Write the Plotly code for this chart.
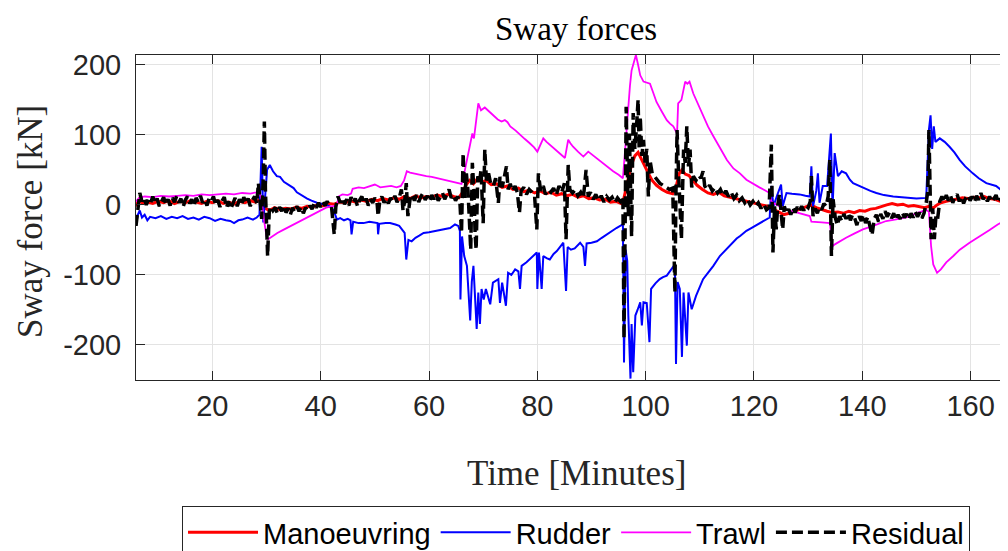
import plotly.graph_objects as go

# ---------------- data (time [min], force [kN]) ----------------
series_names = ["Manoeuvring", "Rudder", "Trawl", "Residual"]
series_colors = ["#ff0000", "#0000ff", "#ff00ff", "#000000"]

manoeuvring = [
    (5.9, -2), (6.5, 8), (7, 3), (8, 4), (9, 2), (10, 5), (11, 3), (12, 6), (13, 2), (14, 5),
    (15, 3), (16, 6), (17, 4), (18, 2), (19, 5), (20, 3), (21, 6), (22, 2), (23, 4), (24, 1),
    (25, 5), (26, 3), (27, 6), (28, 4), (28.8, 8), (29.3, 2), (29.8, -5), (30.5, -8), (31.5, -4),
    (32.5, -7), (33.5, -5), (34.5, -6), (35.5, -3), (36.5, -5), (37.5, -2), (38.5, -3), (39.5, 0),
    (40.5, -1), (41.5, 2), (42.5, 1), (43.5, 4), (44.5, 3), (45.5, 6), (46.5, 4), (47.5, 7),
    (48.5, 5), (49.5, 8), (50.5, 6), (51.5, 9), (52.5, 7), (53.5, 10), (54.5, 8), (55.5, 12),
    (56.5, 9), (57.5, 13), (58.5, 10), (59.5, 12), (60.5, 11), (61.5, 14), (62.5, 12), (63.5, 15),
    (64.5, 12), (65.5, 10), (66.2, 18), (66.8, 28), (67.5, 35), (68.2, 30), (69, 38), (69.8, 32),
    (70.5, 35), (71.5, 29), (72.5, 30), (73.5, 25), (74.5, 27), (75.5, 22), (76.5, 24), (77.5, 19),
    (78.5, 21), (79.5, 17), (80.5, 20), (81.5, 16), (82.5, 18), (83.5, 14), (84.5, 16), (85.5, 13),
    (86.5, 15), (87.5, 11), (88.5, 13), (89.5, 9), (90.5, 10), (91.5, 7), (92.5, 8), (93.5, 4),
    (94.5, 5), (95.5, 2), (96, 10), (96.5, 30), (97, 45), (97.5, 60), (98, 70), (98.6, 75),
    (99.2, 65), (99.8, 55), (100.5, 45), (101.2, 35), (102, 28), (103, 22), (104, 18), (105, 16),
    (105.6, 25), (106.2, 45), (106.7, 50), (107.3, 44), (108, 42), (108.7, 35), (109.5, 28),
    (110.5, 22), (111.5, 17), (112.5, 15), (113.5, 18), (114.5, 13), (115.5, 11), (116.5, 9),
    (117.5, 7), (118.5, 5), (119.5, 3), (120.5, 1), (121.5, 0), (122.5, -2), (123.5, -6),
    (124.5, -10), (125.5, -14), (126.5, -12), (127.5, -9), (128.5, -6), (129.5, -3), (130.5, 0),
    (131.5, -4), (132.5, -7), (133.5, -9), (134.5, -11), (135.5, -10), (136.5, -12), (137.5, -9),
    (138.5, -11), (139.5, -8), (140.5, -9), (141.5, -6), (142.5, -5), (143.5, -2), (144.5, 0),
    (145.5, 2), (146.5, 0), (147.5, 1), (148.5, -2), (149.5, -1), (150.5, -3), (151.5, -4),
    (152.3, -2), (153, -5), (153.8, 0), (154.5, 3), (155.5, 5), (156.5, 7), (157.5, 8), (158.5, 10),
    (159.5, 9), (160.5, 11), (161.5, 10), (162.5, 12), (163.5, 9), (164.5, 8), (165.5, 5), (166.8, 3),
]

rudder = [
    (5.9, -30), (6.2, -15), (6.6, -8), (7, -18), (7.5, -14), (8, -22), (8.5, -17), (9.5, -19),
    (10.5, -16), (11.5, -20), (12.5, -17), (13.5, -19), (14.5, -16), (15.5, -20), (16.5, -18),
    (17.5, -21), (18.5, -17), (19.5, -19), (20.5, -23), (21.5, -20), (22.5, -22), (23.3, -23),
    (24, -26), (24.8, -22), (25.5, -21), (26.5, -18), (27.5, -21), (28.2, -18), (28.7, -14),
    (29.1, 83), (29.4, -25), (29.7, 10), (30.1, 50), (30.6, 57), (31.2, 48), (31.9, 41), (32.5, 40),
    (33.2, 33), (34.3, 27), (35, 24), (35.6, 18), (36.8, 12), (37.5, 9), (38.3, 6), (39.3, 3),
    (40.5, 1), (41.7, -2), (42.4, -8), (43, -21), (43.6, -19), (44.3, -22), (45, -20), (45.5, -22),
    (45.7, -42), (46, -24), (47, -26), (47.9, -26), (49, -24), (50, -26), (50.5, -26), (50.6, -42),
    (50.8, -27), (52, -26), (52.8, -26), (53.8, -28), (54.5, -30), (55, -35), (55.5, -40),
    (55.8, -78), (56.2, -50), (56.8, -52), (57.5, -47), (58.2, -44), (59, -40), (60, -39),
    (61.4, -37), (62.5, -36), (63.9, -33), (64.8, -28), (65.4, -30), (65.7, -37), (65.8, -135),
    (66.1, -45), (66.5, -73), (67, -87), (67.6, -165), (67.9, -110), (68.2, -87), (68.8, -177),
    (69.1, -125), (69.4, -170), (69.7, -120), (70.1, -135), (70.5, -120), (71.3, -142),
    (71.8, -111), (72.8, -106), (73.1, -140), (73.5, -111), (74.2, -144), (74.6, -97), (75.2, -100),
    (75.9, -92), (76.5, -95), (76.8, -120), (77.1, -87), (78, -82), (78.6, -78), (79.4, -72),
    (79.9, -68), (80.0, -120), (80.3, -68), (80.8, -120), (81.1, -73), (81.7, -76), (82.3, -78),
    (83, -70), (83.6, -66), (84.2, -60), (84.8, -54), (85.3, -123), (85.6, -60), (86.2, -64),
    (86.9, -62), (87.9, -54), (88.5, -60), (88.8, -87), (89.1, -55), (90, -54), (91, -52),
    (91.9, -47), (92.8, -42), (93.7, -38), (94.6, -33), (95.3, -30), (95.8, -28), (96, -225),
    (96.3, -64), (96.6, -80), (96.8, -158), (97.2, -248), (97.4, -170), (97.7, -239), (98.1, -158),
    (98.5, -150), (99, -139), (99.3, -172), (99.6, -139), (100.2, -140), (100.7, -196), (101, -120),
    (101.8, -112), (102.6, -106), (103.2, -103), (103.9, -101), (104.7, -92), (105.4, -85),
    (105.6, -227), (105.9, -110), (106.3, -120), (106.7, -217), (107, -125), (107.6, -201),
    (107.9, -125), (108.5, -149), (109.3, -130), (110, -118), (110.6, -106), (111.5, -97),
    (112.5, -87), (113.7, -73), (114.3, -68), (115.2, -62), (116.1, -54), (116.8, -48), (117.5, -44),
    (118.6, -37), (119.5, -33), (121, -26), (122, -22), (122.9, -18), (123.2, 27), (123.6, -2),
    (124.2, 12), (125, 29), (125.3, -2), (126, 17), (127, 16), (128.4, 15), (129.5, 13), (130.3, 12),
    (130.6, 55), (130.9, -2), (131.5, 20), (131.8, 45), (132.1, 3), (132.7, 27), (133.5, 27),
    (134.2, 102), (134.5, -7), (134.9, 74), (135.5, 41), (136.2, 48), (137, 45), (137.7, 36),
    (138.3, 31), (139.2, 28), (140.1, 24), (141.5, 20), (142.6, 17), (144, 14), (145.7, 12),
    (147, 11), (148.1, 10), (150, 9), (151.8, 10), (152.1, 60), (152.3, 107), (152.6, 128),
    (152.9, 80), (153.2, 112), (153.5, 90), (154.3, 95), (155.2, 90), (156.1, 83), (157, 75),
    (158, 64), (159, 55), (160.4, 45), (161.5, 38), (162.9, 31), (164, 28), (164.7, 27),
    (165.5, 22), (166.8, 15),
]

trawl = [
    (5.9, 5), (6.5, 10), (7.5, 12), (9, 11), (10.5, 13), (12, 12), (13.5, 13), (15, 14), (16.5, 13),
    (18, 15), (19.5, 14), (21, 15), (22.5, 16), (24, 15), (25.5, 17), (27, 16), (28.2, 18),
    (28.6, 20), (29, 10), (29.5, -20), (30, -45), (30.3, -49), (31, -45), (32, -40), (33, -36),
    (34, -32), (35, -27), (36, -23), (37, -19), (38, -15), (39, -11), (40, -7), (41, -4), (42, -2),
    (43, -1), (43.3, 12), (44, 15), (45, 14), (45.6, 16), (45.9, 23), (47, 25), (48, 24), (49, 27),
    (50, 29), (50.3, 28), (51, 25), (52, 26), (53, 27), (54, 25), (54.8, 27), (55.4, 35), (55.9, 48),
    (56.5, 46), (57.5, 44), (58.5, 43), (59.5, 41), (60.5, 40), (61.5, 38), (62.5, 37), (63.5, 35),
    (64.5, 33), (65.5, 31), (66, 30), (66.5, 45), (67, 64), (67.5, 80), (68, 102), (68.3, 95),
    (68.7, 120), (69.1, 145), (69.6, 135), (70.3, 139), (71, 134), (71.9, 128), (72.7, 122),
    (73.4, 119), (74, 121), (74.5, 118), (75, 112), (76, 106), (76.8, 100), (77.7, 94), (78.6, 88),
    (79.4, 82), (80, 76), (80.5, 85), (81.1, 95), (81.7, 90), (82.3, 86), (83.2, 80), (84.2, 73),
    (85.1, 67), (85.4, 80), (85.7, 93), (86.1, 88), (86.6, 83), (87.5, 76), (88.5, 69), (89.4, 76),
    (90.5, 69), (91.6, 62), (92.8, 55), (94, 48), (95, 43), (95.8, 38), (96.2, 78), (96.5, 110),
    (96.8, 145), (97.1, 170), (97.4, 192), (97.8, 205), (98.2, 214), (98.6, 200), (99, 185),
    (99.6, 176), (100.2, 175), (100.8, 173), (101.4, 160), (102, 147), (103, 133), (103.9, 121),
    (104.5, 116), (105.1, 112), (105.8, 102), (106, 145), (106.6, 150), (107, 165), (107.3, 176),
    (107.7, 173), (108.1, 176), (108.8, 159), (109.7, 143), (110.6, 126), (111.5, 112), (112.5, 98),
    (113.7, 81), (115, 64), (116.2, 52), (117.4, 45), (118.6, 36), (119.8, 30), (121, 25), (122, 21),
    (122.9, 17), (123.2, 5), (123.5, 3), (124.5, -1), (126, -7), (127.5, -10), (129, -13),
    (130.3, -16), (130.6, -24), (131.5, -24), (132.5, -25), (134, -26), (134.3, -45), (134.5, -59),
    (135, -56), (135.8, -52), (137, -47), (138.5, -41), (140.1, -35), (142, -30), (144.4, -23),
    (146, -21), (148.1, -18), (150, -12), (151.8, -7), (152.3, -10), (152.7, -59), (153.1, -85),
    (153.8, -97), (154.5, -92), (155.5, -82), (156.8, -73), (158, -64), (159.8, -54), (161.7, -45),
    (163.5, -36), (165, -28), (166.8, -21),
]

residual = [
    (5.9, -30), (6.3, -5), (6.6, 17), (7.0, 5), (7.4, 10), (7.8, 0), (8.2, 8), (8.6, 3), (9.0, 12),
    (9.4, 2), (9.8, 9), (10.2, -2), (10.6, 6), (11.0, 11), (11.4, 1), (11.8, 8), (12.2, -1),
    (12.6, 10), (13.0, 4), (13.4, 12), (13.8, 3), (14.2, 9), (14.6, -3), (15.0, 7), (15.4, 12),
    (15.8, 2), (16.2, 8), (16.6, -2), (17.0, 10), (17.4, 4), (17.8, 13), (18.2, 3), (18.6, 8),
    (19.0, -1), (19.4, 9), (19.8, 5), (20.2, 12), (20.6, 0), (21.0, 7), (21.4, -3), (21.8, 6),
    (22.2, 11), (22.6, -4), (23.0, 5), (23.4, -6), (23.8, 4), (24.2, 10), (24.6, -2), (25.0, 8),
    (25.4, 1), (25.8, 11), (26.2, 3), (26.6, 9), (27.0, -2), (27.4, 7), (27.8, 12), (28.2, 2),
    (28.5, 31), (28.8, 10), (29.1, -20), (29.4, 40), (29.6, 119), (29.8, 20), (30.0, -45),
    (30.2, -73), (30.5, -10), (30.8, -2), (31.2, -8), (31.6, -4), (32.0, -12), (32.4, -3), (32.8, -9),
    (33.2, -1), (33.6, -11), (34.0, -5), (34.4, -14), (34.8, -4), (35.2, -10), (35.6, -2), (36.0, -9),
    (36.4, -3), (36.8, -12), (37.2, -4), (37.6, -8), (38.0, -1), (38.4, -6), (38.8, 2), (39.2, -4),
    (39.6, 3), (40.0, -3), (40.4, 4), (40.8, -1), (41.2, 5), (41.6, 0), (42.0, -3), (42.5, -42),
    (42.8, -2), (43.2, 12), (43.6, 3), (44.0, 10), (44.4, 1), (44.8, 8), (45.2, -1), (45.6, 11),
    (46.0, 3), (46.4, 9), (46.8, -2), (47.2, 7), (47.6, 12), (48.0, 2), (48.4, 9), (48.8, -1),
    (49.2, 8), (49.6, 3), (50.0, 10), (50.4, 4), (50.6, -16), (50.9, 5), (51.3, 12), (51.7, 3),
    (52.1, 9), (52.5, 2), (52.9, 10), (53.3, 5), (53.7, 13), (54.1, 4), (54.5, 10), (54.9, 22),
    (55.2, -8), (55.5, 5), (55.8, 31), (56.1, -16), (56.5, 8), (56.9, 15), (57.3, 6), (57.7, 14),
    (58.1, 4), (58.5, 12), (58.9, 17), (59.3, 7), (59.7, 13), (60.1, 5), (60.5, 14), (60.9, 8),
    (61.3, 16), (61.7, 6), (62.1, 12), (62.5, 17), (62.9, 8), (63.3, 15), (63.7, 22), (64.1, 10),
    (64.5, 14), (64.9, 6), (65.3, 12), (65.7, 4), (66.0, -40), (66.3, 74), (66.6, 10), (66.9, 45),
    (67.2, 20), (67.5, -30), (67.7, -64), (68.0, 60), (68.3, 20), (68.5, -40), (68.7, -64),
    (69.0, 41), (69.3, 30), (69.6, 50), (69.8, 0), (70.0, -26), (70.3, 79), (70.6, 35), (71.0, 45),
    (71.4, 30), (71.9, 27), (72.3, 38), (72.8, 3), (73.1, 40), (73.5, 25), (74.0, 45), (74.3, 55),
    (74.6, 22), (75.0, 30), (75.4, 20), (75.9, 27), (76.3, 18), (76.7, -11), (77.0, 20), (77.5, 25),
    (78.0, 15), (78.5, 22), (79.0, 18), (79.5, 12), (79.9, -35), (80.2, 45), (80.6, 20), (81.1, 27),
    (81.5, 15), (82.0, 22), (82.5, 18), (83.0, 24), (83.5, 14), (84.0, 27), (84.5, 18), (85.0, 31),
    (85.3, -49), (85.7, 57), (86.0, 22), (86.5, 17), (87.0, 22), (87.5, 13), (88.0, 18), (88.5, 10),
    (89.0, 50), (89.4, 12), (89.8, 18), (90.3, 8), (90.8, 15), (91.3, 6), (91.8, 13), (92.3, 4),
    (92.8, 12), (93.3, 7), (93.8, 11), (94.3, 3), (94.8, 10), (95.3, 5), (95.8, 12), (96.0, -191),
    (96.2, -40), (96.4, 140), (96.6, 60), (96.8, -16), (97.0, 102), (97.2, 20), (97.4, -45),
    (97.7, 131), (98.0, 80), (98.3, 110), (98.6, 150), (98.8, 80), (99.0, 126), (99.3, 70),
    (99.6, 93), (99.9, 60), (100.2, 80), (100.5, 12), (100.8, 64), (101.2, 45), (101.6, 41),
    (102.0, 35), (102.6, 31), (103.2, 28), (103.8, 25), (104.4, 22), (105.0, 24), (105.3, -64),
    (105.4, -125), (105.6, 20), (105.8, 107), (106.0, 60), (106.3, 12), (106.6, -49), (107.0, 79),
    (107.3, 60), (107.6, 112), (107.9, 55), (108.2, 79), (108.5, 25), (108.8, 41), (109.3, 35),
    (109.8, 42), (110.2, 38), (110.6, 48), (110.9, 27), (111.3, 22), (111.8, 28), (112.3, 20),
    (112.8, 25), (113.3, 17), (113.8, 22), (114.3, 13), (114.8, 20), (115.3, 12), (115.8, 18),
    (116.3, 9), (116.8, 14), (117.3, 6), (117.8, 10), (118.3, 3), (118.8, 8), (119.3, 0), (119.8, 5),
    (120.3, -2), (120.8, 3), (121.3, -5), (121.8, 1), (122.3, -7), (122.8, -4), (123.2, 86),
    (123.5, -68), (123.8, -2), (124.1, -35), (124.4, 0), (124.7, 15), (125.0, -10), (125.3, -35),
    (125.6, -2), (126.0, -12), (126.4, -6), (126.8, -14), (127.2, -4), (127.6, -11), (128.0, -3),
    (128.4, -9), (128.8, -2), (129.2, -8), (129.6, -1), (130.0, -4), (130.4, 5), (130.6, 41),
    (130.9, -16), (131.3, -5), (131.7, -12), (132.1, -3), (132.5, -7), (132.9, 2), (133.3, -2),
    (133.7, 12), (134.0, 64), (134.3, -73), (134.6, 8), (135.0, -18), (135.4, -29), (135.8, -16),
    (136.2, -23), (136.6, -13), (137.0, -20), (137.4, -12), (137.8, -22), (138.2, -14), (138.6, -19),
    (139.0, -29), (139.4, -16), (139.8, -23), (140.2, -14), (140.6, -26), (141.0, -17), (141.4, -30),
    (141.8, -43), (142.2, -20), (142.6, -14), (143.0, -24), (143.4, -13), (143.8, -20), (144.2, -9),
    (144.6, -17), (145.0, -11), (145.4, -19), (145.8, -12), (146.2, -22), (146.6, -14), (147.0, -20),
    (147.4, -11), (147.8, -18), (148.2, -13), (148.6, -21), (149.0, -12), (149.4, -18), (149.8, -10),
    (150.2, -17), (150.6, -11), (151.0, -19), (151.4, -12), (151.8, 3), (152.1, 20), (152.3, 107),
    (152.5, 10), (152.7, -49), (153.0, -5), (153.3, -49), (153.6, -15), (153.9, -20), (154.3, 5),
    (154.7, 12), (155.1, 4), (155.5, 14), (155.9, 6), (156.3, 13), (156.7, 3), (157.1, 11),
    (157.5, 15), (157.9, 5), (158.3, 12), (158.7, 2), (159.1, 10), (159.5, 14), (159.9, 6),
    (160.3, 12), (160.7, 4), (161.1, 13), (161.5, 7), (161.9, 17), (162.3, 8), (162.7, 13),
    (163.1, 5), (163.5, 12), (163.9, 4), (164.3, 10), (164.7, 14), (165.1, 3), (165.5, 9),
    (165.9, 1), (166.3, 7), (166.8, 4),
]

x_tick_values = [20, 40, 60, 80, 100, 120, 140, 160]
y_tick_values = [-200, -100, 0, 100, 200]
y_tick_labels = ["-200", "-100", "0", "100", "200"]

# ---------------- figure ----------------
SERIF = "Liberation Serif, Times New Roman, serif"
SANS = "Liberation Sans, Arial, Helvetica, sans-serif"
AX = "#262626"

line_styles = [
    dict(width=3.0),
    dict(width=2.0),
    dict(width=1.8),
    dict(width=3.5, dash="11px,5px"),
]

fig = go.Figure()
for name, color, data, style in zip(series_names, series_colors,
                                    [manoeuvring, rudder, trawl, residual], line_styles):
    fig.add_trace(go.Scatter(
        x=[p[0] for p in data], y=[p[1] for p in data],
        mode="lines", name=name,
        line=dict(color=color, **style),
    ))

# the page body adds an 8px offset, so the figure is 8px smaller than the window
PLOT_H = 325
fig.update_layout(
    width=1000, height=543,
    margin=dict(l=128, r=0, t=47, b=543 - 47 - PLOT_H, autoexpand=False),
    paper_bgcolor="white", plot_bgcolor="white",
    showlegend=True,
    legend=dict(
        orientation="h", x=0.5046, xanchor="center", y=-126 / PLOT_H, yanchor="top",
        font=dict(family=SANS, size=29, color="black"),
        bordercolor=AX, borderwidth=1, bgcolor="white",
        itemwidth=70, tracegroupgap=0,
    ),
    xaxis=dict(
        range=[5.9, 166.9], tickvals=x_tick_values,
        ticks="inside", ticklen=9, tickcolor=AX, tickwidth=1,
        showline=True, linecolor=AX, linewidth=1, mirror="ticks",
        showgrid=True, gridcolor="#e3e3e3", gridwidth=1, zeroline=False,
        tickfont=dict(family=SANS, size=29, color=AX), ticklabelstandoff=0,
    ),
    yaxis=dict(
        range=[-250, 214], tickvals=y_tick_values, ticktext=y_tick_labels,
        ticks="inside", ticklen=9, tickcolor=AX, tickwidth=1,
        showline=True, linecolor=AX, linewidth=1, mirror=False,
        showgrid=True, gridcolor="#e3e3e3", gridwidth=1, zeroline=False,
        tickfont=dict(family=SANS, size=29, color=AX), ticklabelstandoff=8,
    ),
    annotations=[
        dict(text="Sway forces", xref="paper", yref="paper", x=0.505, y=1 + 26 / PLOT_H,
             xanchor="center", yanchor="middle", showarrow=False,
             font=dict(family=SERIF, size=33, color="black")),
        dict(text="Time [Minutes]", xref="paper", yref="paper", x=0.505, y=-93 / PLOT_H,
             xanchor="center", yanchor="middle", showarrow=False,
             font=dict(family=SERIF, size=35, color=AX)),
        dict(text="Sway force [kN]", xref="paper", yref="paper", x=-106 / 872, y=(380 - 222) / PLOT_H,
             xanchor="center", yanchor="middle", showarrow=False, textangle=-90,
             font=dict(family=SERIF, size=35, color=AX)),
    ],
)

fig.write_html("out.html")
